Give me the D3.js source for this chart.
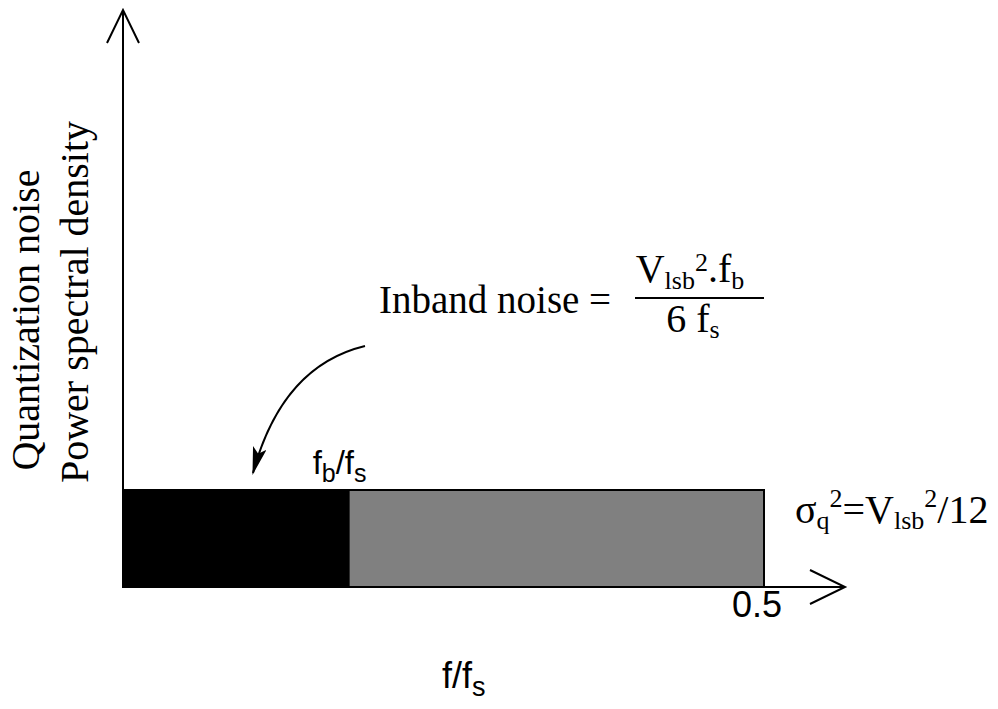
<!DOCTYPE html>
<html>
<head>
<meta charset="utf-8">
<script src="https://cdn.jsdelivr.net/npm/d3@7"></script>
<style>
  html, body { margin: 0; padding: 0; background: #fff; }
  svg { display: block; }
  .serif { font-family: "Liberation Serif", "Times New Roman", serif; }
  .sans { font-family: "Liberation Sans", Arial, sans-serif; }
</style>
</head>
<body>
<div id="chart"></div>
<script>
// Frequency axis (normalised to f/fs) and noise bands
const xDomain = [0, 0.5];
const bandEdges = [0, 0.176, 0.5];          // 0 .. fb/fs .. fs/2
const bandNames = ["inband", "outband"];
const bandFills = ["#000000", "#808080"];
const noiseLevel = [1, 1];                  // flat quantization noise PSD
const yDomain = [0, 6];
const xTickValues = [0.5];
const xTickLabels = ["0.5"];

const W = 998, H = 709;
const svg = d3.select("#chart").append("svg")
  .attr("width", W).attr("height", H);

const x = d3.scaleLinear().domain(xDomain).range([123, 764]);
const y = d3.scaleLinear().domain(yDomain).range([587, 5]);

const bands = bandNames.map((name, i) => ({
  name, x0: bandEdges[i], x1: bandEdges[i + 1], level: noiseLevel[i], fill: bandFills[i]
}));

// Noise bands
svg.selectAll("rect.band").data(bands).join("rect")
  .attr("class", "band")
  .attr("x", d => x(d.x0))
  .attr("y", d => y(d.level))
  .attr("width", d => x(d.x1) - x(d.x0))
  .attr("height", d => y(0) - y(d.level))
  .attr("fill", d => d.fill)
  .attr("stroke", "#000")
  .attr("stroke-width", 2);

// Axes with open arrowheads
const axisG = svg.append("g").attr("fill", "none").attr("stroke", "#000").attr("stroke-width", 2);
const x0 = x(0), yBase = y(0), yTop = 10, xEnd = 845;
axisG.append("line").attr("x1", x0).attr("y1", yBase).attr("x2", x0).attr("y2", yTop);
axisG.append("polyline").attr("points", `${x0 - 16},${yTop + 33} ${x0},${yTop} ${x0 + 16},${yTop + 33}`);
axisG.append("line").attr("x1", x0).attr("y1", yBase).attr("x2", xEnd).attr("y2", yBase);
axisG.append("polyline").attr("points", `${xEnd - 35},${yBase - 17} ${xEnd},${yBase} ${xEnd - 35},${yBase + 17}`);

// Tick label at fs/2
svg.selectAll("text.tick").data(xTickValues).join("text")
  .attr("class", "tick sans")
  .attr("x", d => x(d) - 7)
  .attr("y", 617)
  .attr("text-anchor", "middle")
  .attr("font-size", 36)
  .text((d, i) => xTickLabels[i]);

// fb/fs marker label
const fbLabel = svg.append("text").attr("class", "sans")
  .attr("x", x(bandEdges[1]) - 36).attr("y", 474).attr("font-size", 33);
fbLabel.append("tspan").text("f");
fbLabel.append("tspan").attr("font-size", 25).attr("dy", 8).text("b");
fbLabel.append("tspan").attr("dy", -8).text("/f");
fbLabel.append("tspan").attr("font-size", 25).attr("dy", 8).text("s");

// x-axis title
const xt = svg.append("text").attr("class", "sans")
  .attr("x", 442).attr("y", 688).attr("font-size", 36);
xt.append("tspan").text("f/f");
xt.append("tspan").attr("font-size", 27).attr("dy", 8).text("s");

// y-axis title (two lines)
svg.append("text").attr("class", "serif")
  .attr("transform", "translate(39,320) rotate(-90)")
  .attr("text-anchor", "middle").attr("font-size", 40)
  .text("Quantization noise");
svg.append("text").attr("class", "serif")
  .attr("transform", "translate(88,302) rotate(-90)")
  .attr("text-anchor", "middle").attr("font-size", 40)
  .text("Power spectral density");

// Inband noise formula
svg.append("text").attr("class", "serif")
  .attr("x", 379).attr("y", 313).attr("font-size", 39)
  .text("Inband noise =");
svg.append("line").attr("x1", 635).attr("x2", 764).attr("y1", 298).attr("y2", 298)
  .attr("stroke", "#000").attr("stroke-width", 2);
const num = svg.append("text").attr("class", "serif")
  .attr("x", 690).attr("y", 282).attr("text-anchor", "middle").attr("font-size", 40);
num.append("tspan").text("V");
num.append("tspan").attr("font-size", 26).attr("dy", 7).text("lsb");
num.append("tspan").attr("font-size", 26).attr("dy", -18).text("2");
num.append("tspan").attr("dy", 11).text(".f");
num.append("tspan").attr("font-size", 26).attr("dy", 7).text("b");
const den = svg.append("text").attr("class", "serif")
  .attr("x", 693).attr("y", 332).attr("text-anchor", "middle").attr("font-size", 40);
den.append("tspan").text("6 f");
den.append("tspan").attr("font-size", 26).attr("dy", 6).text("s");

// Quantization noise power
const sq = svg.append("text").attr("class", "serif")
  .attr("x", 795).attr("y", 523).attr("font-size", 40);
sq.append("tspan").text("σ");
sq.append("tspan").attr("font-size", 26).attr("dy", 6).text("q");
sq.append("tspan").attr("font-size", 26).attr("dy", -22).text("2");
sq.append("tspan").attr("dy", 16).text("=V");
sq.append("tspan").attr("font-size", 26).attr("dy", 6).text("lsb");
sq.append("tspan").attr("font-size", 26).attr("dy", -22).text("2");
sq.append("tspan").attr("dy", 16).text("/12");

// Curved pointer from the formula to the inband region
const defs = svg.append("defs");
defs.append("marker").attr("id", "head")
  .attr("viewBox", "0 0 28 14").attr("refX", 26).attr("refY", 7)
  .attr("markerWidth", 28).attr("markerHeight", 14)
  .attr("markerUnits", "userSpaceOnUse").attr("orient", "auto")
  .append("path").attr("d", "M0,0 L28,7 L0,14 L6,7 Z").attr("fill", "#000");
const p = d3.path();
p.moveTo(365, 346);
p.quadraticCurveTo(282, 366, 253, 473);
svg.append("path").attr("d", p.toString())
  .attr("fill", "none").attr("stroke", "#000").attr("stroke-width", 2)
  .attr("marker-end", "url(#head)");
</script>
</body>
</html>
